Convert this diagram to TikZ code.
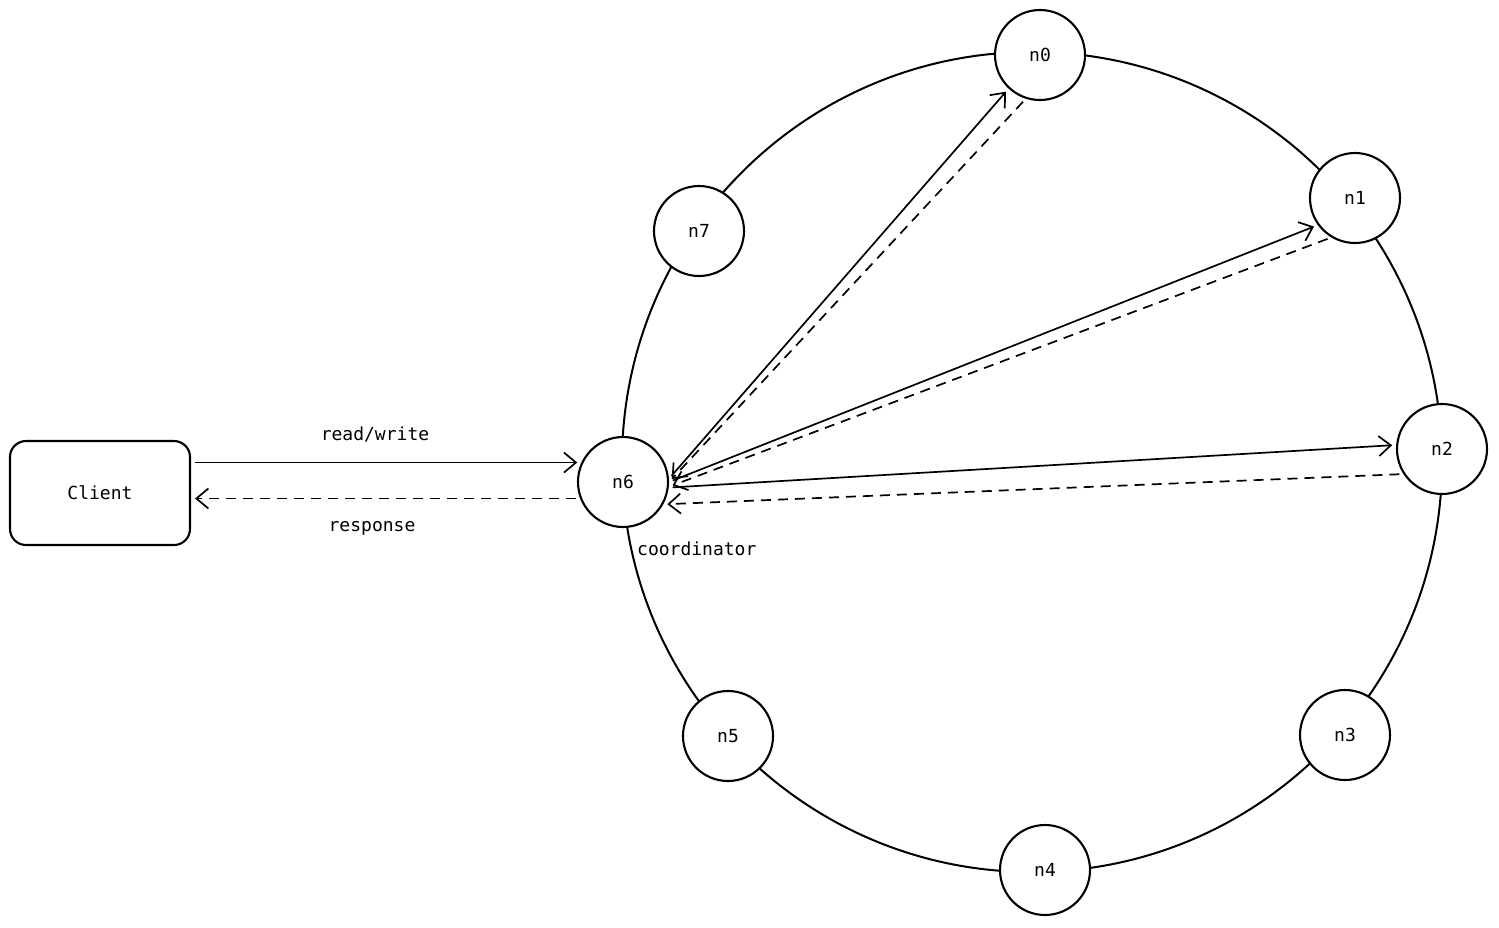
\documentclass[tikz,border=0pt]{standalone}
\usepackage{fontspec}
\setmonofont{DejaVu Sans Mono}
\usetikzlibrary{arrows.meta}
\begin{document}
\begin{tikzpicture}[x=1pt,y=-1pt,
  every node/.style={font=\ttfamily\fontsize{18}{21}\selectfont},
  ring/.style={circle,draw,line width=2.1pt,fill=white,minimum size=90pt,inner sep=0pt},
  box/.style={draw,line width=2.1pt,rounded corners=16pt,minimum width=180pt,minimum height=104pt,fill=white},
  conn/.style={line width=1.7pt,-{Straight Barb[length=12pt,width=20pt,line width=1.7pt]},shorten >=4pt,shorten <=4pt},
  back/.style={conn,dash pattern=on 10pt off 7pt},
  lbl/.style={inner sep=0pt}]
\useasboundingbox (0,0) rectangle (1499,927);
\draw[line width=2pt] (1032,462) circle[radius=410];
\node[ring] (n0) at (1040,55) {n0};
\node[ring] (n1) at (1355,198) {n1};
\node[ring] (n2) at (1442,449) {n2};
\node[ring] (n3) at (1345,735) {n3};
\node[ring] (n4) at (1045,870) {n4};
\node[ring] (n5) at (728,736) {n5};
\node[ring] (n6) at (623,482) {n6};
\node[ring] (n7) at (699,231) {n7};
\node[box] (client) at (100,493) {Client};
% client <-> coordinator
\draw[conn] (n6.155 -| client.east) -- (n6.155);
\draw[back] (n6.201) -- (n6.201 -| client.east);
\node[lbl] (rw) at (375,434) {read/write};
\node[lbl] (resp) at (372,528) {response};
\node[lbl,anchor=west] (coord) at (637,549) {coordinator};
% replication requests
\draw[conn] (n6.4) -- (n0.227);
\draw[back] (n0.252) -- (n6.0);
\draw[conn] (n6.0) -- (n1.216);
\draw[back] (n1.239) -- (n6.-6);
\draw[conn] (n6.-7) -- (n2.175);
\draw[back] (n2.213) -- (n6.-29);
\end{tikzpicture}
\end{document}
